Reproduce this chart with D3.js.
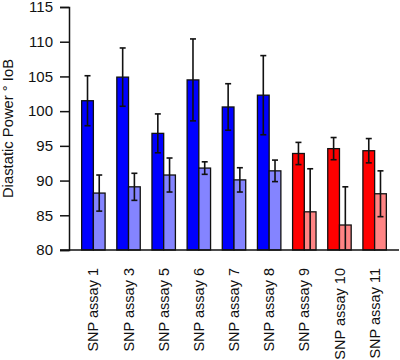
<!DOCTYPE html>
<html>
<head>
<meta charset="utf-8">
<script src="https://cdn.jsdelivr.net/npm/d3@7"></script>
<style>
  body { margin: 0; background: #fff; }
  svg text { font-family: "Liberation Sans", Arial, sans-serif; }
</style>
</head>
<body>
<div id="chart"></div>
<script>
// chart data
const assays = ["SNP assay 1", "SNP assay 3", "SNP assay 5", "SNP assay 6", "SNP assay 7",
                "SNP assay 8", "SNP assay 9", "SNP assay 10", "SNP assay 11"];
const highMeans = [101.5, 104.9, 96.8, 104.5, 100.6, 102.3, 93.9, 94.6, 94.3];
const highErr   = [3.6, 4.2, 2.8, 5.9, 3.35, 5.7, 1.6, 1.6, 1.75];
const lowMeans  = [88.2, 89.1, 90.8, 91.8, 90.1, 91.4, 85.5, 83.6, 88.1];
const lowErr    = [2.6, 1.95, 2.45, 0.9, 1.75, 1.55, 6.2, 5.5, 3.3];
const redFrom = 6; // assays from this index are drawn in red
const yTicks = [80, 85, 90, 95, 100, 105, 110, 115];

const W = 400, H = 360;
const MARGIN = { LEFT: 69, RIGHT: 1, TOP: 7, BOTTOM: 110 };

const svg = d3.select("#chart").append("svg")
    .attr("width", W)
    .attr("height", H)

const x = d3.scaleBand()
    .domain(assays)
    .range([MARGIN.LEFT, W - MARGIN.RIGHT])
    .paddingInner(1 / 3)
    .paddingOuter(0.36)

const y = d3.scaleLinear()
    .domain([80, 115])
    .range([H - MARGIN.BOTTOM, MARGIN.TOP])

const bw = x.bandwidth() / 2;

const rows = assays.map((a, i) => ({
    name: a,
    red: i >= redFrom,
    bars: [
        { k: 0, v: highMeans[i], e: highErr[i] },
        { k: 1, v: lowMeans[i], e: lowErr[i] }
    ]
}))

function fill(row, b) {
    if (row.red) return b.k == 0 ? "#ff0000" : "#ff8484";
    return b.k == 0 ? "#0000ff" : "#8484ff";
}

const groups = svg.selectAll("g.grp")
    .data(rows)
    .enter().append("g")
    .attr("class", "grp")
    .attr("transform", d => `translate(${x(d.name)},0)`)

groups.selectAll("rect")
    .data(d => d.bars.map(b => ({ row: d, ...b })))
    .enter().append("rect")
    .attr("x", d => d.k * bw)
    .attr("y", d => y(d.v))
    .attr("width", bw)
    .attr("height", d => y(80) - y(d.v))
    .attr("fill", d => fill(d.row, d))
    .attr("stroke", "#111")
    .attr("stroke-width", 1.3)

// error bars (clipped at the axis)
const errs = groups.selectAll("g.err")
    .data(d => d.bars)
    .enter().append("g")
    .attr("class", "err")
    .attr("transform", d => `translate(${d.k * bw + bw / 2},0)`)

errs.append("line")
    .attr("y1", d => y(d.v + d.e))
    .attr("y2", d => y(Math.max(80, d.v - d.e)))
    .attr("stroke", "#111")
    .attr("stroke-width", 1.6)

errs.append("line")
    .attr("x1", -3).attr("x2", 3)
    .attr("y1", d => y(d.v + d.e)).attr("y2", d => y(d.v + d.e))
    .attr("stroke", "#111")
    .attr("stroke-width", 1.6)

errs.filter(d => d.v - d.e > 80).append("line")
    .attr("x1", -3).attr("x2", 3)
    .attr("y1", d => y(d.v - d.e)).attr("y2", d => y(d.v - d.e))
    .attr("stroke", "#111")
    .attr("stroke-width", 1.6)

// y axis
const yAxis = svg.append("g")
    .attr("transform", `translate(${MARGIN.LEFT},0)`)
    .call(d3.axisLeft(y).tickValues(yTicks).tickSize(9).tickPadding(7))
yAxis.select(".domain").attr("stroke", "#111").attr("stroke-width", 1.5)
yAxis.selectAll(".tick line").attr("stroke", "#111").attr("stroke-width", 1.5)
yAxis.selectAll("text").attr("font-size", "15px").attr("fill", "#111")
    .style("font-family", "'Liberation Sans', Arial, sans-serif")

// x axis
const xAxis = svg.append("g")
    .attr("transform", `translate(0,${y(80)})`)
    .call(d3.axisBottom(x).tickSize(0).tickPadding(0))
xAxis.select(".domain").attr("d", `M${MARGIN.LEFT - 9},0H${W - 1}`)
    .attr("stroke", "#111").attr("stroke-width", 1.5)
xAxis.selectAll("text")
    .attr("font-size", "14.5px")
    .attr("fill", "#111")
    .style("font-family", "'Liberation Sans', Arial, sans-serif")
    .attr("text-anchor", "end")
    .attr("dy", "0.35em")
    .attr("transform", "translate(0,18) rotate(-90)")

// y label
svg.append("text")
    .attr("transform", `translate(13,${(y(80) + y(115)) / 2}) rotate(-90)`)
    .attr("text-anchor", "middle")
    .attr("font-size", "14.8px")
    .attr("fill", "#111")
    .text("Diastatic Power ° IoB")
</script>
</body>
</html>
